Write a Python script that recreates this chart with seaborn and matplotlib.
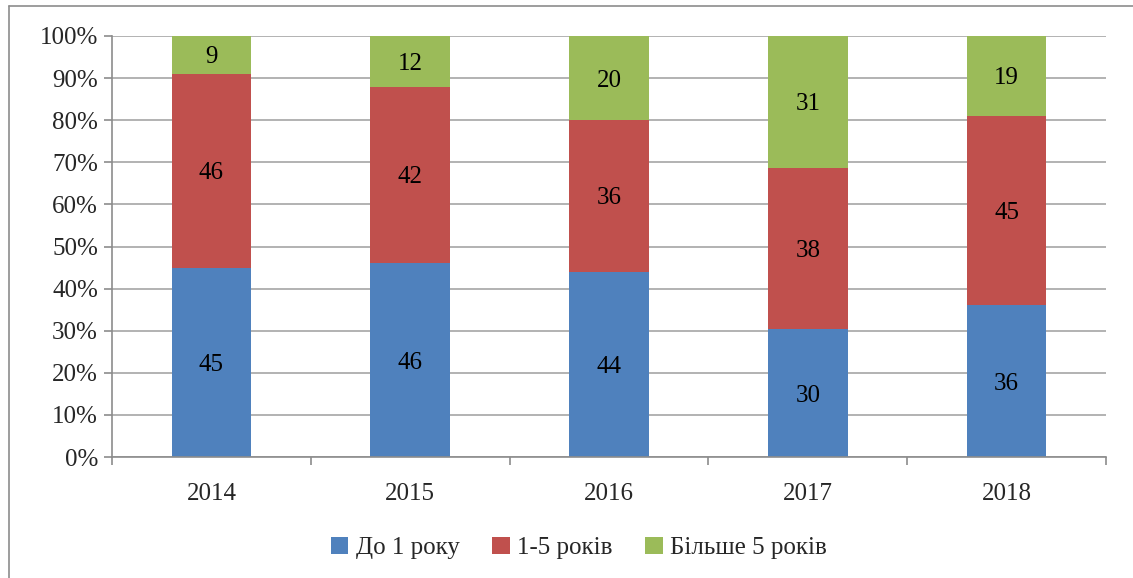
import numpy as np
import pandas as pd
import matplotlib
matplotlib.use("Agg")
import matplotlib.pyplot as plt
import seaborn as sns
from matplotlib.patches import Patch
from matplotlib.lines import Line2D

years = ["2014", "2015", "2016", "2017", "2018"]
up_to_1 = [45, 46, 44, 30, 36]
one_to_5 = [46, 42, 36, 38, 45]
over_5 = [9, 12, 20, 31, 19]
series_names = ["До 1 року", "1-5 років", "Більше 5 років"]
colors = ["#4f81bd", "#c0504d", "#9bbb59"]

sns.set_theme(style="white")
plt.rcParams['font.family'] = ['Liberation Serif', 'DejaVu Serif']
FS = 18

raw = np.array([up_to_1, one_to_5, over_5], dtype=float)
totals = raw.sum(axis=0)
shares = raw / totals * 100

fig = plt.figure(figsize=(11.33, 5.78), dpi=100)
ax = fig.add_axes([112/1133, 1-457/578, (1106-112)/1133, (457-36)/578])

bottom = np.zeros(len(years))
for i, name in enumerate(series_names):
    df = pd.DataFrame({"year": years, "share": shares[i]})
    sns.barplot(data=df, x="year", y="share", color=colors[i], bottom=bottom,
                width=0.4, ax=ax, saturation=1, linewidth=0, order=years)
    for j in range(len(years)):
        ax.text(j, bottom[j] + shares[i][j] / 2, f"{int(raw[i][j])}",
                ha="center", va="center_baseline", fontsize=FS, color="black")
    bottom = bottom + shares[i]

ax.set_ylim(0, 100)
ax.set_xlim(-0.5, len(years) - 0.5)
ax.set_yticks(np.arange(0, 101, 10))
ax.set_yticklabels([f"{v}%" for v in range(0, 101, 10)], fontsize=FS)
ax.set_xticks(range(len(years)))
ax.set_xticklabels(years, fontsize=FS)
ax.set_xticks(np.arange(-0.5, len(years), 1.0), minor=True)
ax.tick_params(axis="x", which="major", length=0, pad=19)
ax.tick_params(axis="x", which="minor", length=6, color="#8c8c8c", width=1.2, direction="out", bottom=True)
ax.tick_params(axis="y", length=6, color="#8c8c8c", width=1.2, direction="out", left=True, pad=4)
ax.set_xlabel("")
ax.set_ylabel("")
ax.yaxis.grid(True, color="#a6a6a6", linewidth=1.2)
ax.set_axisbelow(True)
for s in ["top", "right"]:
    ax.spines[s].set_visible(False)
for s in ["left", "bottom"]:
    ax.spines[s].set_color("#8c8c8c")
    ax.spines[s].set_linewidth(1.2)

handles = [Patch(facecolor=c, edgecolor="none", label=n) for c, n in zip(colors, series_names)]
fig.legend(handles=handles, loc="center", bbox_to_anchor=(0.511, 1-548/578), ncol=3,
           frameon=False, fontsize=FS, handlelength=0.7, handleheight=0.7,
           handletextpad=0.3, columnspacing=1.3)

# outer chart border
fig.add_artist(Line2D([9/1133, 9/1133], [0, 1-6/578], transform=fig.transFigure, color="#8c8c8c", linewidth=1.2))
fig.add_artist(Line2D([9/1133, 1], [1-6/578, 1-6/578], transform=fig.transFigure, color="#8c8c8c", linewidth=1.2))

fig.savefig("out.png", dpi=100)
